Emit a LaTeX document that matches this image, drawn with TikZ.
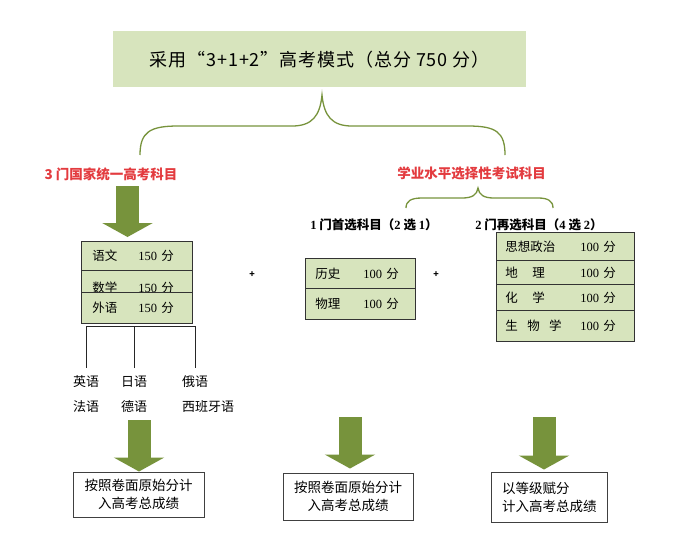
\documentclass[tikz,border=0pt]{standalone}
\usepackage{fontspec}
\setmainfont{Noto Sans CJK SC}
\newfontfamily\latinserif{Liberation Serif}
\usetikzlibrary{arrows.meta}
\definecolor{boxgreen}{HTML}{D7E4BD}
\definecolor{olivegreen}{HTML}{77933C}
\definecolor{labelred}{HTML}{E33B3F}
\newcommand{\numtxt}[1]{{\latinserif #1}}

\begin{document}
\begin{tikzpicture}[x=1pt, y=-1pt,
  row/.style={draw=black!80, line width=0.9pt, fill=boxgreen, anchor=north west,
    minimum height=#1, inner ysep=0pt, align=left, font=\fontsize{12.5pt}{14pt}\selectfont},
  redlabel/.style={text=labelred, font=\bfseries\fontsize{13.5pt}{15pt}\selectfont},
  sublabel/.style={font=\bfseries\fontsize{12.5pt}{14pt}\selectfont},
  lang/.style={anchor=west, inner sep=0pt, font=\fontsize{13pt}{15pt}\selectfont},
  result/.style={draw=black!75, line width=1pt, fill=white, font=\fontsize{13.5pt}{18pt}\selectfont},
  bigarrow/.style={olivegreen, line width=23pt, -{Triangle[width=50pt, length=14pt]}},
  brace/.style={olivegreen, line width=1.3pt}]
\useasboundingbox (0,0) rectangle (693,558);

% title
\node[fill=boxgreen, anchor=north west, minimum width=413pt, minimum height=56pt,
  font=\fontsize{18pt}{20pt}\selectfont\addfontfeature{LetterSpace=5}] (title) at (113,31) {采用“3+1+2”高考模式（总分 750 分）};

% braces
\draw[brace] (140,155) .. controls (140,132) and (150,126) .. (178,126) -- (292,126)
  .. controls (312,126) and (320,116) .. (322,95) .. controls (324,116) and (332,126) .. (352,126)
  -- (468,126) .. controls (496,126) and (505,132) .. (505,155);
\draw[brace] (406,208) .. controls (406,201) and (411,198) .. (422,198) -- (462,198)
  .. controls (472,198) and (477,195) .. (478,188) .. controls (479,195) and (484,198) .. (494,198)
  -- (538,198) .. controls (548,198) and (553,201) .. (553,208);

\node[redlabel] (national) at (111,174) {3 门国家统一高考科目};
\node[redlabel] (academic) at (471.5,173) {学业水平选择性考试科目};
\node[sublabel] (first) at (374,225) {\numtxt{1} 门首选科目（\numtxt{2} 选 \numtxt{1}）};
\node[sublabel] (second) at (539,225) {\numtxt{2} 门再选科目（\numtxt{4} 选 \numtxt{2}）};

% national subjects
\node[row=29pt, text width=89pt, inner xsep=11pt] (yw) at (81,241) {\makebox[46pt][l]{语文}\numtxt{150} 分};
\node[row=34pt, text width=89pt, inner xsep=11pt] (sx) at (81,270) {\makebox[46pt][l]{数学}\numtxt{150} 分};
\node[row=31pt, text width=89pt, inner xsep=11pt] (wy) at (81,292) {\makebox[46pt][l]{外语}\numtxt{150} 分};

% first choice
\node[row=30pt, text width=90pt, inner xsep=10pt] (ls) at (305,258) {\makebox[48pt][l]{历史}\numtxt{100} 分};
\node[row=31pt, text width=90pt, inner xsep=10pt] (wl) at (305,288) {\makebox[48pt][l]{物理}\numtxt{100} 分};

% second choice
\foreach \name/\y/\h/\subj in {zz/232/28/{思想政治}, dl/260/24/{地\hspace{1.15em}理},
    hx/284/26/{化\hspace{1.15em}学}, sw/310/31/{生\hspace{0.75em}物\hspace{0.75em}学}}
  \node[row=\h pt, text width=120pt, inner xsep=9pt] (\name) at (496,\y) {\makebox[75pt][l]{\subj}\numtxt{100} 分};

\node[font=\bfseries\fontsize{9pt}{10pt}\selectfont] (plus1) at (252,275) {+};
\node[font=\bfseries\fontsize{9pt}{10pt}\selectfont] (plus2) at (436,275) {+};

% foreign languages
\foreach \name/\x/\y/\lang in {en/73/382/英语, ja/121/382/日语, ru/182/382/俄语,
    fr/73/407/法语, de/121/407/德语, es/182/407/西班牙语}
  \node[lang] (\name) at (\x,\y) {\lang};
\coordinate (bar) at ([yshift=-3pt]wy.south);
\draw[black!85, line width=0.9pt] ([yshift=8pt]en.north) -- (en.north |- bar) -- (ru.north |- bar) -- ([yshift=8pt]ru.north);
\draw[black!85, line width=0.9pt] ([yshift=8pt]ja.north) -- (ja.north |- bar);

% results
\node[result, minimum width=131pt, minimum height=45pt, align=center] (res1) at (138.5,494.5) {按照卷面原始分计\\入高考总成绩};
\node[result, minimum width=130pt, minimum height=47pt, align=center] (res2) at (348,496.5) {按照卷面原始分计\\入高考总成绩};
\node[result, minimum height=50pt, text width=94pt, inner xsep=11pt, align=left] (res3) at (549,497) {以等级赋分\\计入高考总成绩};

% arrows
\coordinate (a1) at (127.5,186);
\coordinate (a2) at (139,420);
\coordinate (a3) at (350,417);
\coordinate (a4) at (544,417);
\draw[bigarrow, shorten >=4pt] (a1) -- (a1 |- yw.north);
\draw[bigarrow] (a2) -- (a2 |- res1.north);
\draw[bigarrow, shorten >=4pt] (a3) -- (a3 |- res2.north);
\draw[bigarrow, shorten >=2pt] (a4) -- (a4 |- res3.north);

\end{tikzpicture}
\end{document}
